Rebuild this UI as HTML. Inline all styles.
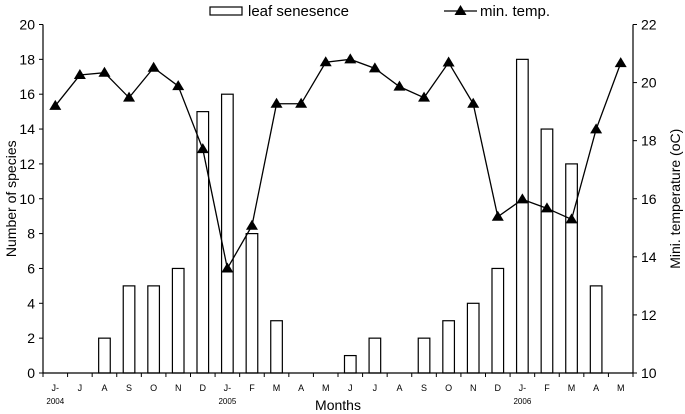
<!DOCTYPE html>
<html><head><meta charset="utf-8"><style>
body{margin:0;background:#fff;}
svg{display:block;font-family:"Liberation Sans",Arial,sans-serif;}
</style></head><body>
<svg id="chart" width="685" height="414"></svg>
<script>
const months=["J-","J","A","S","O","N","D","J-","F","M","A","M","J","J","A","S","O","N","D","J-","F","M","A","M"];
const years=["2004","","","","","","","2005","","","","","","","","","","","","2006","","","",""];
const species=[0,0,2,5,5,6,15,16,8,3,0,0,1,2,0,2,3,4,6,18,14,12,5,0];
const temps=[19.2,20.26,20.34,19.48,20.51,19.88,17.71,13.6,15.07,19.27,19.27,20.7,20.8,20.49,19.86,19.48,20.69,19.27,15.38,15.98,15.67,15.29,18.39,20.67];
const leftTicks=[0,2,4,6,8,10,12,14,16,18,20];
const rightTicks=[10,12,14,16,18,20,22];

const NS="http://www.w3.org/2000/svg";
const svg=document.getElementById('chart');
const L=43,R=633,T=24.5,B=373;
const bw=(R-L)/months.length;
const xc=i=>L+bw*(i+0.5);
const yl=v=>B-(v/20)*(B-T);
const yr=v=>B-((v-10)/12)*(B-T);
function el(tag,attrs,parent){const e=document.createElementNS(NS,tag);for(const k in attrs)e.setAttribute(k,attrs[k]);(parent||svg).appendChild(e);return e;}
function txt(s,attrs){const e=el('text',attrs);e.textContent=s;return e;}

// bars
species.forEach((v,i)=>{
  if(v<=0)return;
  const r=el('rect',{x:xc(i)-5.8,y:yl(v),width:11.6,height:B-yl(v),fill:'#fff',stroke:'#000','stroke-width':1.2});
  
  
});
// axes
const ax=el('path',{d:`M${L} ${T}V${B}H${R}V${T}`,fill:'none',stroke:'#000','stroke-width':1.2});


leftTicks.forEach(v=>{
  el('line',{x1:L-4,x2:L,y1:yl(v),y2:yl(v),stroke:'#000'});
  const t=txt(String(v),{x:L-8,y:yl(v)+5,'text-anchor':'end','font-size':14,fill:'#000'});
  
  
});
rightTicks.forEach(v=>{
  el('line',{x1:R,x2:R+4,y1:yr(v),y2:yr(v),stroke:'#000'});
  const t=txt(String(v),{x:R+8,y:yr(v)+5,'font-size':14,fill:'#000'});
  
  
});
for(let i=0;i<=months.length;i++){el('line',{x1:L+bw*i,x2:L+bw*i,y1:B,y2:B+4,stroke:'#000'});}
months.forEach((m,i)=>{
  const t=txt(m,{x:xc(i),y:B+18,'text-anchor':'middle','font-size':9,fill:'#000'});
  
  
  if(years[i]){
    const y=txt(years[i],{x:xc(i),y:B+31,'text-anchor':'middle','font-size':8,fill:'#000'});
    
    
  }
});
// line
const pts=temps.map((v,i)=>xc(i)+','+yr(v)).join(' ');
const pl=el('polyline',{points:pts,fill:'none',stroke:'#000','stroke-width':1.3});


temps.forEach((v,i)=>{
  const x=xc(i),y=yr(v);
  const p=el('polygon',{points:`${x},${y-6} ${x-6},${y+4} ${x+6},${y+4}`,fill:'#000'});
  
  
});
// titles
const t1=txt('Number of species',{x:0,y:0,transform:`translate(16,${(T+B)/2}) rotate(-90)`,'text-anchor':'middle','font-size':14,fill:'#000'});


const t2=txt('Mini. temperature (oC)',{x:0,y:0,transform:`translate(680,${(T+B)/2}) rotate(-90)`,'text-anchor':'middle','font-size':14,fill:'#000'});


const t3=txt('Months',{x:338,y:410,'text-anchor':'middle','font-size':14,fill:'#000'});


// legend
const lg=el('g',{});


el('rect',{x:210,y:7,width:32,height:8,fill:'#fff',stroke:'#000','stroke-width':1.2},lg);
const lt1=txt('leaf senesence',{x:248,y:16,'font-size':15,fill:'#000'});


el('line',{x1:444,x2:477,y1:11,y2:11,stroke:'#000','stroke-width':1.3},lg);
el('polygon',{points:'460.5,5 454.5,15 466.5,15',fill:'#000'},lg);
const lt2=txt('min. temp.',{x:480,y:16,'font-size':15,fill:'#000'});


</script>
</body></html>
